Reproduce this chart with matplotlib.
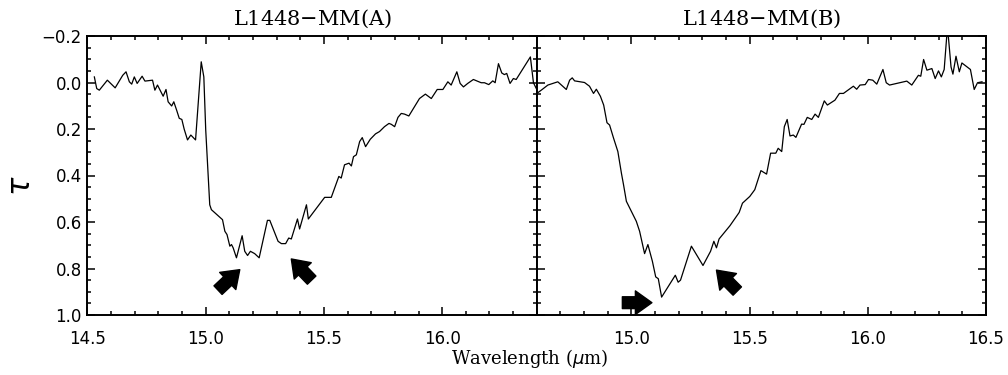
import numpy as np
import matplotlib
matplotlib.use("Agg")
from matplotlib import pyplot as plt
from matplotlib.ticker import MultipleLocator, FuncFormatter

# optical depth spectra, L1448-MM (A)
wav_a = [14.529, 14.539, 14.550, 14.584, 14.617, 14.649, 14.663, 14.677, 14.687, 14.698,
         14.710, 14.731, 14.743, 14.775, 14.785, 14.796, 14.820, 14.832, 14.841, 14.856,
         14.865, 14.877, 14.888, 14.899, 14.909, 14.923, 14.937, 14.957, 14.981, 14.992,
         15.000, 15.017, 15.024, 15.071, 15.081, 15.090, 15.102, 15.109, 15.116, 15.130,
         15.154, 15.165, 15.177, 15.189, 15.207, 15.226, 15.261, 15.271, 15.306, 15.320,
         15.338, 15.351, 15.362, 15.388, 15.397, 15.426, 15.434, 15.503, 15.531, 15.563,
         15.573, 15.587, 15.606, 15.616, 15.625, 15.637, 15.651, 15.662, 15.676, 15.696,
         15.718, 15.735, 15.756, 15.775, 15.785, 15.799, 15.813, 15.827, 15.841, 15.859,
         15.883, 15.904, 15.929, 15.954, 15.979, 16.003, 16.024, 16.038, 16.062, 16.076,
         16.090, 16.108, 16.132, 16.146, 16.165, 16.179, 16.197, 16.214, 16.224, 16.238,
         16.252, 16.263, 16.273, 16.287, 16.301, 16.313, 16.373, 16.386, 16.400]
tau_a = [-0.024, 0.026, 0.033, -0.010, 0.023, -0.031, -0.046, -0.003, 0.007, -0.024,
         0.004, -0.027, -0.006, -0.010, 0.033, 0.011, 0.059, 0.030, 0.083, 0.101,
         0.083, 0.119, 0.154, 0.159, 0.201, 0.247, 0.226, 0.247, -0.089, -0.024,
         0.204, 0.526, 0.547, 0.590, 0.640, 0.654, 0.704, 0.697, 0.711, 0.754,
         0.659, 0.726, 0.744, 0.726, 0.736, 0.754, 0.593, 0.593, 0.683, 0.693,
         0.693, 0.669, 0.673, 0.587, 0.630, 0.526, 0.587, 0.494, 0.494, 0.404,
         0.411, 0.354, 0.347, 0.359, 0.319, 0.311, 0.254, 0.237, 0.276, 0.244,
         0.221, 0.211, 0.190, 0.176, 0.180, 0.190, 0.150, 0.133, 0.136, 0.144,
         0.104, 0.069, 0.050, 0.069, 0.030, 0.030, -0.003, 0.011, -0.046, 0.004,
         0.019, 0.004, -0.013, -0.007, 0.001, 0.001, 0.009, -0.007, 0.001, -0.081,
         -0.041, -0.034, -0.039, 0.004, -0.017, -0.013, -0.110, 0.001, 0.030]

# optical depth spectra, L1448-MM (B)
wav_b = [14.600, 14.619, 14.647, 14.689, 14.725, 14.739, 14.750, 14.760, 14.802, 14.823,
         14.840, 14.852, 14.869, 14.883, 14.897, 14.908, 14.925, 14.943, 14.958, 14.967,
         14.979, 15.000, 15.021, 15.035, 15.056, 15.070, 15.089, 15.103, 15.114, 15.128,
         15.186, 15.198, 15.208, 15.254, 15.303, 15.335, 15.349, 15.360, 15.371, 15.417,
         15.456, 15.470, 15.501, 15.522, 15.548, 15.572, 15.589, 15.611, 15.621, 15.636,
         15.647, 15.659, 15.671, 15.685, 15.696, 15.720, 15.730, 15.744, 15.763, 15.777,
         15.791, 15.816, 15.829, 15.861, 15.880, 15.897, 15.939, 15.953, 15.967, 15.989,
         16.003, 16.021, 16.038, 16.064, 16.078, 16.092, 16.165, 16.186, 16.214, 16.224,
         16.236, 16.250, 16.271, 16.285, 16.299, 16.311, 16.323, 16.337, 16.352, 16.360,
         16.373, 16.387, 16.398, 16.434, 16.450, 16.464, 16.483]
tau_b = [0.047, 0.033, 0.011, -0.003, 0.030, -0.010, -0.020, -0.007, 0.000, 0.016,
         0.047, 0.029, 0.059, 0.097, 0.173, 0.183, 0.240, 0.297, 0.390, 0.440,
         0.511, 0.554, 0.597, 0.640, 0.736, 0.697, 0.769, 0.836, 0.844, 0.923,
         0.829, 0.859, 0.850, 0.704, 0.787, 0.726, 0.683, 0.711, 0.673, 0.616,
         0.559, 0.519, 0.490, 0.461, 0.379, 0.394, 0.304, 0.304, 0.283, 0.297,
         0.190, 0.159, 0.230, 0.226, 0.236, 0.179, 0.180, 0.150, 0.159, 0.136,
         0.150, 0.079, 0.097, 0.076, 0.047, 0.047, 0.016, 0.029, 0.011, 0.009,
         -0.013, -0.010, 0.007, -0.056, 0.001, 0.011, -0.006, 0.011, -0.031, -0.027,
         -0.099, -0.053, -0.060, -0.017, -0.050, -0.024, -0.056, -0.240, -0.067, -0.036,
         -0.113, -0.046, -0.084, -0.056, 0.030, 0.001, -0.003]

titles = ["L1448$-$MM(A)", "L1448$-$MM(B)"]

# arrows marking the features (tail -> tip, data coordinates)
arrows_a = [((15.052, 0.893), (15.144, 0.805)), ((15.448, 0.850), (15.362, 0.759))]
arrows_b = [((14.962, 0.947), (15.087, 0.947)), ((15.448, 0.897), (15.360, 0.807))]


def fmt(v, pos):
    return ('%.1f' % v).replace('-', '\u2212')


fig = plt.figure(figsize=(10.08, 3.75), dpi=100)
ax1 = fig.add_axes([0.0868, 0.160, 0.4457, 0.744])
ax2 = fig.add_axes([0.5325, 0.160, 0.4457, 0.744])

panels = [(ax1, wav_a, tau_a, arrows_a, (14.5, 16.4)),
          (ax2, wav_b, tau_b, arrows_b, (14.6, 16.5))]

for i, (ax, w, t, arr, xl) in enumerate(panels):
    ax.plot(w, t, color='k', lw=0.9)
    ax.set_xlim(*xl)
    ax.set_ylim(1.0, -0.2)
    ax.xaxis.set_major_locator(MultipleLocator(0.5))
    ax.xaxis.set_minor_locator(MultipleLocator(0.1))
    ax.yaxis.set_major_locator(MultipleLocator(0.2))
    ax.yaxis.set_minor_locator(MultipleLocator(0.05))
    ax.tick_params(which='both', direction='in', top=True, right=True, width=1.1)
    ax.tick_params(which='major', length=6)
    ax.tick_params(which='minor', length=3)
    ax.tick_params(axis='x', pad=11, labelsize=12)
    ax.tick_params(axis='y', pad=4, labelsize=12)
    ax.xaxis.set_major_formatter(FuncFormatter(fmt))
    ax.yaxis.set_major_formatter(FuncFormatter(fmt))
    for s in ax.spines.values():
        s.set_linewidth(1.4)
    ax.set_title(titles[i], family='DejaVu Serif', fontsize=15, pad=8)
    for tail, tip in arr:
        ax.annotate('', xy=tip, xytext=tail,
                    arrowprops=dict(arrowstyle='simple,head_width=1.0,head_length=0.7,tail_width=0.5',
                                    fc='k', ec='k', mutation_scale=17,
                                    shrinkA=0, shrinkB=0))

ax2.tick_params(axis='y', labelleft=False)

fig.text(0.525, 0.045, r'Wavelength ($\mu$m)', family='DejaVu Serif', fontsize=13,
         ha='center', va='center')
fig.text(0.021, 0.505, r'$\tau$', fontsize=22, rotation=90, ha='center', va='center')

fig.savefig('out.png', dpi=100)
